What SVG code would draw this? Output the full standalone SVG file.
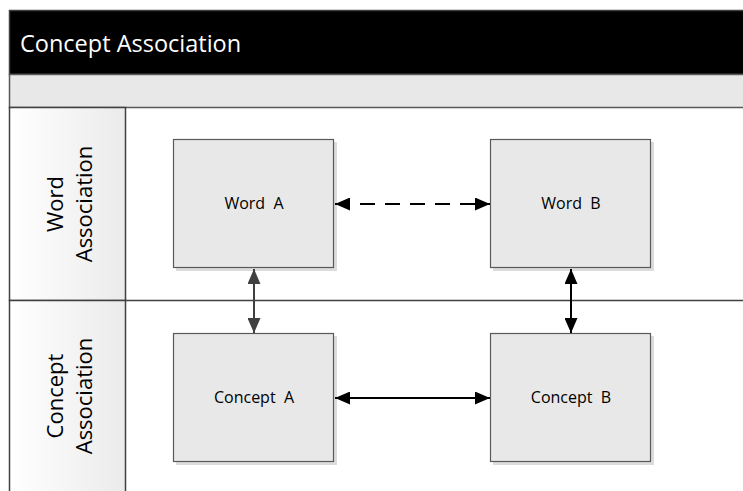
<svg xmlns="http://www.w3.org/2000/svg" width="743" height="491" viewBox="0 0 743 491">
<defs>
<linearGradient id="lh" x1="0" y1="0" x2="1" y2="0">
<stop offset="0" stop-color="#ffffff"/>
<stop offset="1" stop-color="#ebebeb"/>
</linearGradient>
<marker id="ahk" viewBox="0 0 15 13" refX="15" refY="6.5" markerWidth="15" markerHeight="13" markerUnits="userSpaceOnUse" orient="auto-start-reverse">
<path d="M0,0 L15,6.5 L0,13 Z" fill="#000"/>
</marker>
<marker id="ahg" viewBox="0 0 15 13" refX="15" refY="6.5" markerWidth="15" markerHeight="13" markerUnits="userSpaceOnUse" orient="auto-start-reverse">
<path d="M0,0 L15,6.5 L0,13 Z" fill="#404040"/>
</marker>
</defs>
<style>
.box{fill:#e8e8e8;stroke:#595959;stroke-width:1.2}
.shadow{fill:#dcdcdc}
.lbl{font-family:"Open Sans","Liberation Sans",sans-serif;font-size:16px;fill:#000;text-anchor:middle;white-space:pre}
.lane{font-family:"Open Sans","Liberation Sans",sans-serif;font-size:22px;fill:#000;text-anchor:middle}
.conn{fill:none;stroke-width:2}
</style>
<rect x="0" y="0" width="743" height="491" fill="#ffffff"/>
<g id="pool">
<rect x="9.5" y="10.5" width="740" height="64" fill="#000" stroke="#404040" stroke-width="1.5"/>
<text x="20" y="52" font-family="'Open Sans','Liberation Sans',sans-serif" font-size="23.5" fill="#fff">Concept Association</text>
<rect x="9.5" y="74.5" width="740" height="33" fill="#e8e8e8" stroke="#595959" stroke-width="1.5"/>
</g>
<g id="lane-word">
<rect x="9.5" y="107.5" width="116" height="193" fill="url(#lh)" stroke="#404040" stroke-width="1.5"/>
<line x1="125.5" y1="300.5" x2="743" y2="300.5" stroke="#404040" stroke-width="1.5"/>
<text class="lane" transform="translate(69 204) rotate(-90)"><tspan x="0" y="-6">Word</tspan><tspan x="0" y="23">Association</tspan></text>
</g>
<g id="lane-concept">
<rect x="9.5" y="300.5" width="116" height="200" fill="url(#lh)" stroke="#404040" stroke-width="1.5"/>
<text class="lane" transform="translate(69 396) rotate(-90)"><tspan x="0" y="-6">Concept</tspan><tspan x="0" y="23">Association</tspan></text>
</g>
<g id="word-a">
<rect class="shadow" x="176" y="142" width="161" height="129"/>
<rect class="box" x="173.5" y="139.5" width="160" height="128"/>
<text class="lbl" x="254" y="209" xml:space="preserve">Word  A</text>
</g>
<g id="word-b">
<rect class="shadow" x="493" y="142" width="161" height="129"/>
<rect class="box" x="490.5" y="139.5" width="160" height="128"/>
<text class="lbl" x="571" y="209" xml:space="preserve">Word  B</text>
</g>
<g id="concept-a">
<rect class="shadow" x="176" y="336" width="161" height="129"/>
<rect class="box" x="173.5" y="333.5" width="160" height="128"/>
<text class="lbl" x="254" y="403" xml:space="preserve">Concept  A</text>
</g>
<g id="concept-b">
<rect class="shadow" x="493" y="336" width="161" height="129"/>
<rect class="box" x="490.5" y="333.5" width="160" height="128"/>
<text class="lbl" x="571" y="403" xml:space="preserve">Concept  B</text>
</g>
<g id="connectors">
<line class="conn" x1="335" y1="204" x2="490" y2="204" stroke="#000" stroke-dasharray="15 10" marker-start="url(#ahk)" marker-end="url(#ahk)"/>
<line class="conn" x1="254" y1="269" x2="254" y2="333" stroke="#404040" marker-start="url(#ahg)" marker-end="url(#ahg)"/>
<line class="conn" x1="571" y1="269" x2="571" y2="333" stroke="#000" marker-start="url(#ahk)" marker-end="url(#ahk)"/>
<line class="conn" x1="335" y1="398" x2="490" y2="398" stroke="#000" marker-start="url(#ahk)" marker-end="url(#ahk)"/>
</g>
</svg>
